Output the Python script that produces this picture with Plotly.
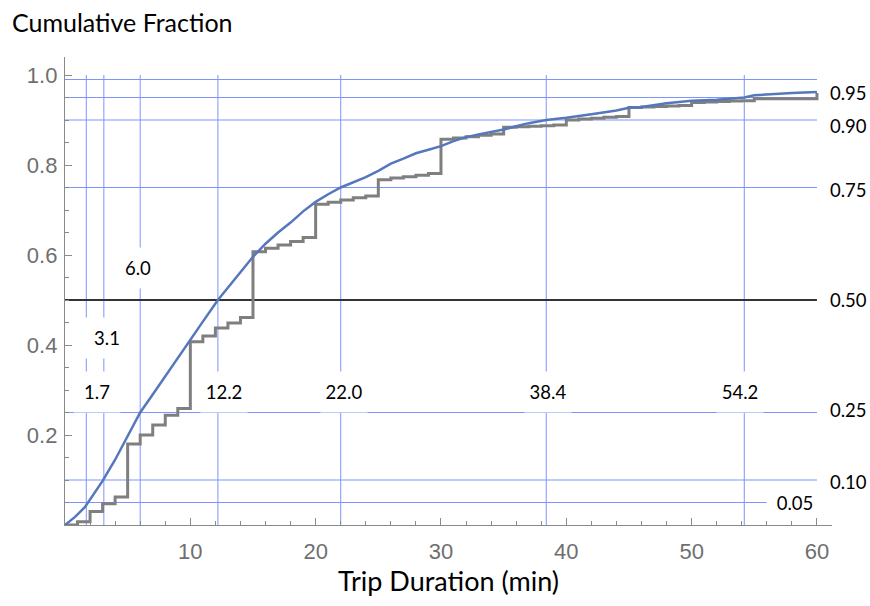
import plotly.graph_objects as go

# ---------------- data ----------------
# smooth empirical CDF (blue)
cdf_x = [0, 0.8, 1.6, 2.3, 3.0, 4.0, 5.0, 6.0, 7.0, 8.0, 9.0, 10.0, 11.0, 12.2, 13.0, 14.0,
         15.0, 16.0, 17.0, 18.0, 19.0, 20.0, 21.0, 22.0, 23.0, 24.0, 25.0, 26.0, 27.0, 28.0,
         29.0, 30.0, 31.0, 32.0, 33.0, 34.0, 35.0, 36.0, 37.0, 38.4, 40.0, 42.0, 44.0, 45.0,
         46.0, 48.0, 50.0, 52.0, 54.2, 55.0, 56.0, 58.0, 60.0]
cdf_y = [0.0, 0.018, 0.040, 0.068, 0.098, 0.145, 0.197, 0.250, 0.290, 0.331, 0.371, 0.411,
         0.452, 0.500, 0.527, 0.560, 0.596, 0.625, 0.650, 0.672, 0.697, 0.718, 0.735, 0.750,
         0.762, 0.773, 0.787, 0.803, 0.814, 0.826, 0.834, 0.842, 0.853, 0.862, 0.868, 0.873,
         0.879, 0.886, 0.893, 0.900, 0.905, 0.913, 0.921, 0.927, 0.929, 0.937, 0.943, 0.945,
         0.950, 0.955, 0.957, 0.960, 0.962]

# rounded-minute step CDF (gray)
step_x = [0, 1, 2, 3, 4, 5, 6, 7, 8, 9, 10, 11, 12, 13, 14, 15, 16, 17, 18, 19, 20, 21, 22,
          23, 24, 25, 26, 27, 28, 29, 30, 31, 32, 33, 34, 35, 36, 37, 38, 39, 40, 41, 42, 43,
          44, 45, 46, 47, 48, 49, 50, 51, 52, 53, 54, 55, 60]
step_y = [0.0, 0.007, 0.030, 0.047, 0.062, 0.180, 0.200, 0.222, 0.244, 0.259, 0.407, 0.420,
          0.438, 0.449, 0.461, 0.607, 0.615, 0.622, 0.630, 0.639, 0.713, 0.717, 0.722, 0.727,
          0.731, 0.767, 0.771, 0.774, 0.777, 0.781, 0.857, 0.860, 0.863, 0.866, 0.869, 0.884,
          0.885, 0.886, 0.887, 0.889, 0.900, 0.902, 0.904, 0.906, 0.908, 0.928, 0.929, 0.930,
          0.931, 0.932, 0.939, 0.940, 0.941, 0.942, 0.943, 0.947, 0.960]

# quantiles
quantile_probs = [0.05, 0.10, 0.25, 0.50, 0.75, 0.90, 0.95]
quantile_vals = [1.7, 3.1, 6.0, 12.2, 22.0, 38.4, 54.2]
quantile_val_labels = ["1.7", "3.1", "6.0", "12.2", "22.0", "38.4", "54.2"]
quantile_prob_labels = ["0.05", "0.10", "0.25", "0.50", "0.75", "0.90", "0.95"]
extra_grid_prob = 0.99

y_tick_vals = [0.2, 0.4, 0.6, 0.8, 1.0]
y_tick_text = ["0.2", "0.4", "0.6", "0.8", "1.0"]
x_tick_vals = [10, 20, 30, 40, 50, 60]
x_tick_text = ["10", "20", "30", "40", "50", "60"]

# ---------------- layout helpers (positions) ----------------
val_label_y = [0.296, 0.416, 0.571, 0.296, 0.296, 0.296, 0.296]
val_label_xshift = [11, 3, -2, 6, 3, 2, -4]
prob_label_yshift = [0, -2, 2.5, 0, -2, -6, 5]

GRID = "rgb(125,148,255)"
TXT = "Lato, 'Open Sans', sans-serif"

fig = go.Figure()

fig.add_trace(go.Scatter(x=step_x, y=step_y, mode="lines", line_shape="hv",
                         line=dict(color="#7f7f7f", width=3), hoverinfo="skip"))
fig.add_trace(go.Scatter(x=cdf_x, y=cdf_y, mode="lines",
                         line=dict(color="#5577bb", width=2.5), hoverinfo="skip"))

shapes = []
for v in quantile_vals:
    shapes.append(dict(type="line", xref="x", yref="y", x0=v, x1=v, y0=0, y1=1.0,
                       line=dict(color=GRID, width=1), layer="below"))
for p in quantile_probs + [extra_grid_prob]:
    if p == 0.5:
        continue
    shapes.append(dict(type="line", xref="x", yref="y", x0=0, x1=60, y0=p, y1=p,
                       line=dict(color=GRID, width=1), layer="below"))
shapes.append(dict(type="line", xref="x", yref="y", x0=0, x1=60, y0=0.5, y1=0.5,
                   line=dict(color="#333333", width=2), layer="below"))

annotations = []
for v, lab, ly, xs in zip(quantile_vals, quantile_val_labels, val_label_y, val_label_xshift):
    annotations.append(dict(x=v, y=ly, xref="x", yref="y", text=lab, showarrow=False,
                            xshift=xs, bgcolor="white", width=44, height=38,
                            font=dict(family=TXT, size=18.5, color="black")))
for p, lab, ys in zip(quantile_probs, quantile_prob_labels, prob_label_yshift):
    if lab == "0.05":
        annotations.append(dict(x=60, y=p, xref="x", yref="y", text=lab, showarrow=False,
                                xanchor="center", xshift=-22, yshift=ys, bgcolor="white",
                                width=54, height=18,
                                font=dict(family=TXT, size=18.5, color="black")))
    else:
        annotations.append(dict(x=60, y=p, xref="x", yref="y", text=lab, showarrow=False,
                                xanchor="left", xshift=11, yshift=ys,
                                font=dict(family=TXT, size=18.5, color="black")))

annotations.append(dict(x=0, y=1, xref="paper", yref="paper", text="Cumulative Fraction",
                        showarrow=False, xanchor="left", yanchor="middle", xshift=-55, yshift=35,
                        font=dict(family=TXT, size=25, color="black")))
annotations.append(dict(x=0.5, y=0, xref="paper", yref="paper", text="Trip Duration (min)",
                        showarrow=False, xanchor="center", yanchor="middle", yshift=-55,
                        font=dict(family=TXT, size=27, color="black")))

fig.update_layout(
    width=870, height=606,
    margin=dict(l=65, r=38, t=57, b=81),
    paper_bgcolor="white", plot_bgcolor="white",
    showlegend=False,
    shapes=shapes, annotations=annotations,
    xaxis=dict(range=[0, 61.2], showgrid=False, zeroline=False,
               showline=True, linecolor="#8a8a8a", linewidth=1.3,
               ticks="inside", ticklen=7, tickcolor="#8a8a8a",
               tickvals=x_tick_vals, ticktext=x_tick_text,
               tickfont=dict(family="Liberation Sans, Arial", size=22, color="#6f6f6f"),
               ticklabelstandoff=6,
               minor=dict(dtick=2, tick0=0, ticks="inside", ticklen=4, tickcolor="#8a8a8a")),
    yaxis=dict(range=[0, 1.04], showgrid=False, zeroline=False,
               showline=True, linecolor="#8a8a8a", linewidth=1.3,
               ticks="inside", ticklen=7, tickcolor="#8a8a8a",
               tickvals=y_tick_vals, ticktext=y_tick_text,
               tickfont=dict(family="Liberation Sans, Arial", size=22, color="#6f6f6f"),
               ticklabelstandoff=2,
               minor=dict(dtick=0.05, tick0=0, ticks="inside", ticklen=4, tickcolor="#8a8a8a")),
)

# remove the page's default body margin and scrollbars so the 870x606 figure fills the window
page_fix = ("document.body.style.margin='0';"
            "document.body.style.overflow='hidden';"
            "document.documentElement.style.overflow='hidden';")

fig.write_html("out.html", post_script=page_fix, config={"displayModeBar": False})
